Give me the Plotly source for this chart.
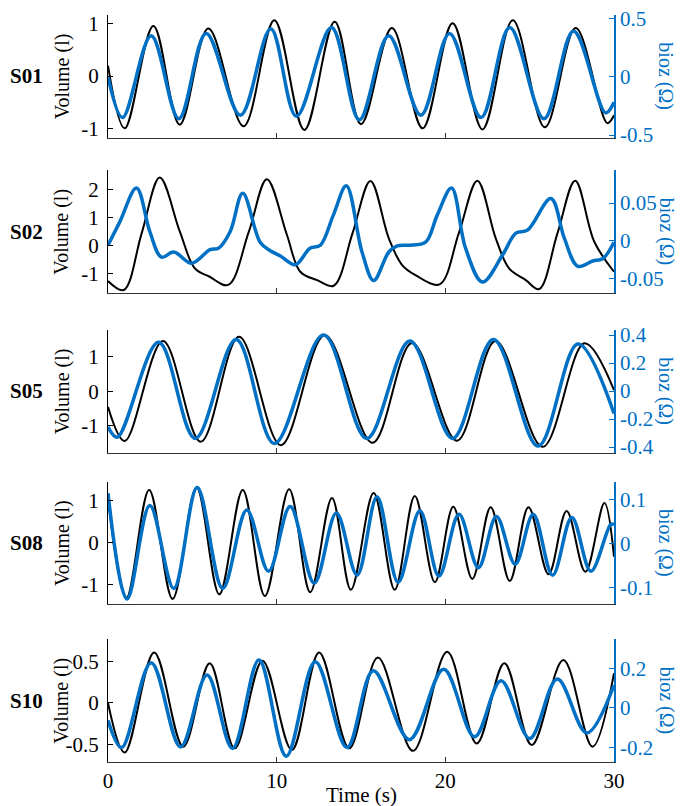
import plotly.graph_objects as go

BLUE = '#0070C4'
FONT = 'Liberation Serif, Times New Roman, serif'

subjects = ['S01', 'S02', 'S05', 'S08', 'S10']

# ---------------- S01 ----------------
s01_vol_t = [0, 0.99, 2.69, 4.25, 5.95, 8.04, 9.86, 11.64, 13.44, 15.0, 16.83, 18.65, 20.43, 22.2, 24.0, 25.9, 27.73, 29.6, 30]
s01_vol = [0.2, -1.0, 0.96, -0.93, 0.91, -0.96, 1.07, -1.03, 1.04, -0.92, 0.92, -1.0, 1.01, -1.02, 1.07, -0.98, 0.92, -0.9, -0.75]
s01_bioz_t = [0, 0.86, 2.56, 4.2, 5.82, 7.85, 9.65, 11.17, 13.25, 14.9, 16.64, 18.55, 20.25, 22.12, 23.82, 25.85, 27.6, 29.5, 30]
s01_bioz = [0.0, -0.35, 0.35, -0.36, 0.37, -0.33, 0.41, -0.34, 0.42, -0.37, 0.35, -0.33, 0.37, -0.35, 0.42, -0.36, 0.39, -0.31, -0.22]

# ---------------- S02 ----------------
s02_vol_t = [0, 0.93, 2.0, 3.07, 4.26, 5.15, 6.0, 7.13, 8.35, 9.42, 10.6, 11.4, 12.4, 13.38, 14.5, 15.56, 16.65,
             17.44, 18.23, 19.66, 20.8, 21.9, 22.99, 23.78, 24.77, 25.56, 26.65, 27.7, 28.83, 30]
s02_vol = [-1.26, -1.58, 0.45, 2.43, 0.5, -0.81, -1.1, -1.40, 0.5, 2.37, 0.4, -0.93, -1.23, -1.43, 0.45, 2.31, 0.26,
           -0.69, -1.05, -1.38, 0.45, 2.32, 0.26, -0.81, -1.23, -1.55, 0.45, 2.32, 0.14, -0.93]
s02_bioz_t = [0, 0.7, 1.69, 2.48, 3.17, 3.9, 4.96, 6.05, 6.55, 7.24, 7.99, 9.02, 9.6, 10.2, 11.1, 11.98, 12.59, 13.36,
              14.13, 15.06, 15.75, 16.65, 17.15, 17.84, 18.83, 19.52, 20.37, 21.2, 22.2, 23.39, 24.18, 24.87, 26.26,
              27.06, 27.85, 28.74, 29.33, 30]
s02_bioz = [-0.006, 0.025, 0.070, 0.012, -0.022, -0.015, -0.030, -0.012, -0.010, 0.012, 0.063, -0.002, -0.013, -0.020,
            -0.032, -0.010, -0.006, 0.034, 0.073, -0.015, -0.053, -0.015, -0.007, -0.006, -0.002, 0.034, 0.070, -0.010,
            -0.055, -0.019, 0.010, 0.014, 0.056, 0.003, -0.034, -0.027, -0.024, -0.002]

# ---------------- S05 ----------------
s05_vol_t = [0, 0.99, 3.26, 5.5, 7.77, 10.25, 12.86, 15.68, 18.03, 20.69, 22.98, 25.77, 28.25, 30]
s05_vol = [-0.46, -1.46, 1.47, -1.48, 1.59, -1.58, 1.64, -1.51, 1.41, -1.45, 1.47, -1.63, 1.40, 0.03]
s05_bioz_t = [0, 0.55, 3.0, 5.17, 7.6, 9.86, 12.78, 15.34, 17.9, 20.43, 22.85, 25.5, 27.86, 30]
s05_bioz = [-0.255, -0.33, 0.348, -0.338, 0.369, -0.374, 0.40, -0.338, 0.357, -0.338, 0.369, -0.393, 0.336, -0.16]

# ---------------- S08 ----------------
s08_vol_t = [0, 1.09, 2.44, 3.83, 5.25, 6.6, 7.99, 9.3, 10.74, 11.99, 13.28, 14.4, 15.75, 17.0, 18.19, 19.38, 20.47,
             21.6, 22.69, 23.82, 24.93, 26.12, 27.19, 28.3, 29.43, 30]
s08_vol = [1.07, -1.33, 1.26, -1.35, 1.32, -1.24, 1.26, -1.28, 1.28, -1.19, 1.07, -1.13, 1.19, -1.13, 1.12, -0.95, 0.86,
           -0.87, 0.85, -0.92, 0.85, -0.76, 0.76, -0.70, 0.95, -0.34]
s08_bioz_t = [0, 1.13, 2.48, 3.9, 5.29, 6.8, 8.23, 9.52, 10.8, 12.23, 13.54, 14.77, 15.95, 17.2, 18.49, 19.62, 20.81,
              21.96, 23.03, 24.14, 25.21, 26.36, 27.5, 28.63, 29.82, 30]
s08_bioz = [0.114, -0.126, 0.086, -0.102, 0.127, -0.102, 0.076, -0.063, 0.084, -0.090, 0.069, -0.072, 0.106, -0.088,
            0.074, -0.074, 0.066, -0.055, 0.061, -0.047, 0.066, -0.072, 0.059, -0.063, 0.044, 0.042]

# ---------------- S10 ----------------
s10_vol_t = [0, 0.99, 2.74, 4.46, 6.03, 7.51, 9.16, 10.9, 12.52, 14.3, 16.0, 18.08, 20.11, 21.86, 23.5, 25.12, 27.0, 28.72, 30]
s10_vol = [0.0, -0.60, 0.61, -0.53, 0.48, -0.55, 0.51, -0.57, 0.61, -0.55, 0.55, -0.58, 0.62, -0.49, 0.48, -0.51, 0.52, -0.53, 0.36]
s10_bioz_t = [0, 0.81, 2.56, 4.3, 5.87, 7.38, 8.95, 10.57, 12.29, 14.17, 15.73, 17.87, 19.9, 21.73, 23.3, 25.0, 26.64, 28.38, 30]
s10_bioz = [-0.062, -0.20, 0.229, -0.197, 0.166, -0.205, 0.242, -0.244, 0.234, -0.20, 0.188, -0.16, 0.195, -0.146, 0.138,
            -0.154, 0.146, -0.126, 0.116]

# ---------------- axes ----------------
vol_ticks = [[-1, 0, 1], [-1, 0, 1, 2], [-1, 0, 1], [-1, 0, 1], [-0.5, 0, 0.5]]
bioz_ticks = [[-0.5, 0, 0.5], [-0.05, 0, 0.05], [-0.4, -0.2, 0, 0.2, 0.4], [-0.1, 0, 0.1], [-0.2, 0, 0.2]]
vol_ranges = [[-1.18, 1.17], [-1.70, 2.70], [-1.80, 1.79], [-1.48, 1.46], [-0.715, 0.77]]
bioz_ranges = [[-0.523, 0.528], [-0.070, 0.094], [-0.44, 0.436], [-0.138, 0.14], [-0.273, 0.347]]
time_ticks = [0, 10, 20, 30]
time_range = [0, 30]

vol_t = [s01_vol_t, s02_vol_t, s05_vol_t, s08_vol_t, s10_vol_t]
vols = [s01_vol, s02_vol, s05_vol, s08_vol, s10_vol]
bioz_t = [s01_bioz_t, s02_bioz_t, s05_bioz_t, s08_bioz_t, s10_bioz_t]
biozs = [s01_bioz, s02_bioz, s05_bioz, s08_bioz, s10_bioz]

domains = [[0.8357, 1.0], [0.6274, 0.7925], [0.4141, 0.5783], [0.2111, 0.3752], [0.0, 0.1643]]

# The page body has an 8px default margin, so the figure is sized/offset to fill the 689x806 window.
OFF = 8
W, H = 689 - OFF, 806 - OFF
ML, MR, MT, MB = 108 - OFF, 75, 15 - OFF, 44
PW = W - ML - MR
PH = H - MT - MB

TICK_SIZE = 21
TITLE_SIZE = 20


def fmt(v):
    return f"{v:g}"


def px_to_paper_x(px):
    return (px - OFF - ML) / PW


def py_to_paper_y(py):
    return (H - MB - (py - OFF)) / PH


fig = go.Figure()
layout = dict(
    template='none',
    width=W, height=H,
    margin=dict(l=ML, r=MR, t=MT, b=MB, autoexpand=False),
    plot_bgcolor='white', paper_bgcolor='white',
    font=dict(family=FONT, size=TICK_SIZE, color='black'),
    showlegend=False,
)
annotations = []

for i, s in enumerate(subjects):
    n = i + 1
    xa = 'x' if n == 1 else f'x{n}'
    yl_id = 2 * i + 1
    yr_id = 2 * i + 2
    yl = 'y' if yl_id == 1 else f'y{yl_id}'
    yr = f'y{yr_id}'

    fig.add_trace(go.Scatter(x=vol_t[i], y=vols[i], xaxis=xa, yaxis=yl, mode='lines',
                             line=dict(color='black', width=2, shape='spline', smoothing=1.0),
                             hoverinfo='skip'))
    fig.add_trace(go.Scatter(x=bioz_t[i], y=biozs[i], xaxis=xa, yaxis=yr, mode='lines',
                             line=dict(color=BLUE, width=3.5, shape='spline', smoothing=1.0),
                             hoverinfo='skip'))

    layout['xaxis' if n == 1 else f'xaxis{n}'] = dict(
        domain=[0, 1], anchor=yl, range=time_range, tickvals=time_ticks,
        ticktext=[fmt(v) for v in time_ticks], showticklabels=(n == 5), automargin=False,
        ticks='inside', ticklen=5, tickcolor='#333', showline=True, linecolor='#333', linewidth=1,
        showgrid=False, zeroline=False, tickfont=dict(family=FONT, size=TICK_SIZE, color='black'),
        ticklabeloverflow='allow',
    )
    layout['yaxis' if yl_id == 1 else f'yaxis{yl_id}'] = dict(
        domain=domains[i], anchor=xa, range=vol_ranges[i], tickvals=vol_ticks[i],
        ticktext=[fmt(v) for v in vol_ticks[i]], automargin=False,
        ticks='inside', ticklen=5, tickcolor='black', showline=True, linecolor='black', linewidth=1,
        showgrid=False, zeroline=False, tickfont=dict(family=FONT, size=TICK_SIZE, color='black'),
        ticklabelstandoff=4, ticklabeloverflow='allow',
    )
    layout[f'yaxis{yr_id}'] = dict(
        overlaying=yl, side='right', anchor=xa, range=bioz_ranges[i], tickvals=bioz_ticks[i],
        ticktext=[fmt(v) for v in bioz_ticks[i]], automargin=False,
        ticks='inside', ticklen=5, tickcolor=BLUE, showline=True, linecolor=BLUE, linewidth=1.5,
        showgrid=False, zeroline=False, tickfont=dict(family=FONT, size=TICK_SIZE, color=BLUE),
        ticklabeloverflow='allow',
    )

    ydom = f'{yl} domain'
    annotations.append(dict(text=f'<b>{s}</b>', xref='paper', yref=ydom, x=px_to_paper_x(26), y=0.5,
                            xanchor='center', yanchor='middle', showarrow=False,
                            font=dict(family=FONT, size=21, color='black')))
    annotations.append(dict(text='Volume (l)', xref='paper', yref=ydom, x=px_to_paper_x(62), y=0.5,
                            xanchor='center', yanchor='middle', showarrow=False, textangle=-90,
                            font=dict(family=FONT, size=TITLE_SIZE, color='black')))
    annotations.append(dict(text='bioz (Ω)', xref='paper', yref=ydom, x=px_to_paper_x(666), y=0.5,
                            xanchor='center', yanchor='middle', showarrow=False, textangle=90,
                            font=dict(family=FONT, size=TITLE_SIZE, color=BLUE)))

annotations.append(dict(text='Time (s)', xref='paper', yref='paper', x=0.5, y=py_to_paper_y(795),
                        xanchor='center', yanchor='middle', showarrow=False,
                        font=dict(family=FONT, size=21, color='black')))

layout['annotations'] = annotations
fig.update_layout(**layout)
fig.write_html('out.html')
